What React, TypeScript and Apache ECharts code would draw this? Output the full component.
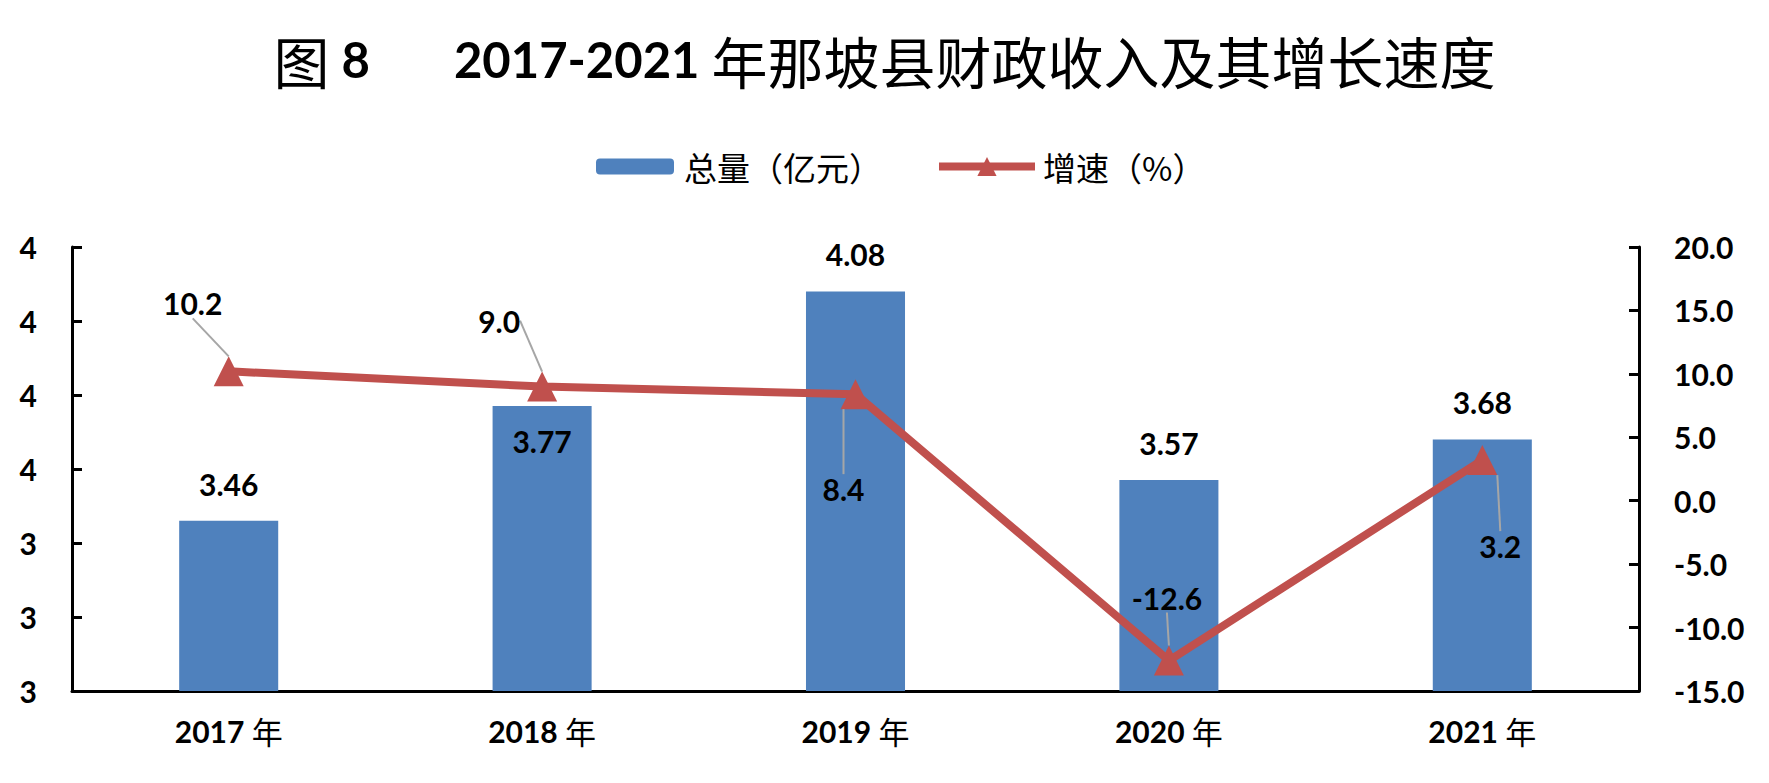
import React, { useEffect, useRef } from 'react';
import * as echarts from 'echarts';

const categories = ['2017 年', '2018 年', '2019 年', '2020 年', '2021 年'];
const totalValues = [3.46, 3.77, 4.08, 3.57, 3.68];
const growthValues = [10.2, 9.0, 8.4, -12.6, 3.2];
const leftAxisRange = [3, 4.2, 0.2];
const rightAxisRange = [-15, 20, 5];
const seriesNames = ['总量（亿元）', '增速（%）'];

const NUM_FONT = 'Lato, "Noto Sans CJK SC", sans-serif';
const CJK_FONT = '"Noto Sans CJK SC", sans-serif';
const lineLabelOffsets = [
  [-36, -68],
  [-43, -66],
  [-12, 95],
  [-2, -63],
  [18, 86],
];

export default function App() {
  const ref = useRef<HTMLDivElement>(null);
  useEffect(() => {
    if (!ref.current) return;
    const chart = echarts.init(ref.current, undefined, { renderer: 'svg' });
    const numLabel = { fontFamily: NUM_FONT, fontWeight: 'bold', fontSize: 30, color: '#000' };
    chart.setOption({
      animation: false,
      backgroundColor: '#fff',
      title: {
        left: 'center',
        top: 21,
        text: '{c|图}{d| 8}{gap| }{d|2017-2021 }{c|年那坡县财政收入及其增长速度}',
        textStyle: {
          rich: {
            c: { fontFamily: CJK_FONT, fontSize: 56, fontWeight: 'normal', color: '#000', lineHeight: 66 },
            d: { fontFamily: NUM_FONT, fontSize: 49, fontWeight: 'bold', color: '#000', lineHeight: 66 },
            gap: { width: 84, fontSize: 48, lineHeight: 66 },
          },
        },
      },
      legend: [
        {
          data: [seriesNames[0]],
          left: 591,
          top: 145,
          itemWidth: 78,
          itemHeight: 16,
          textStyle: { fontFamily: CJK_FONT, fontSize: 33, color: '#000', padding: [0, 0, 0, 5] },
        },
        {
          data: [seriesNames[1]],
          left: 930,
          top: 145,
          itemWidth: 96,
          itemHeight: 24,
          lineStyle: { width: 8, color: '#C0504D' },
          textStyle: { fontFamily: CJK_FONT, fontSize: 33, color: '#000', padding: [0, 0, 0, 3] },
        },
      ],
      grid: { left: 72, right: 130, top: 247, bottom: 92 },
      xAxis: {
        type: 'category',
        data: categories,
        axisLine: { onZero: false, lineStyle: { color: '#000', width: 3 } },
        axisTick: { show: false },
        axisLabel: {
          margin: 24,
          formatter: (v: string) => {
            const [n, c] = v.split(' ');
            return `{n|${n} }{c|${c}}`;
          },
          rich: {
            n: { fontFamily: NUM_FONT, fontWeight: 'bold', fontSize: 30, color: '#000' },
            c: { fontFamily: CJK_FONT, fontWeight: 'normal', fontSize: 31, color: '#000' },
          },
        },
      },
      yAxis: [
        {
          type: 'value',
          min: leftAxisRange[0],
          max: leftAxisRange[1],
          interval: leftAxisRange[2],
          splitLine: { show: false },
          axisLine: { show: true, lineStyle: { color: '#000', width: 3 } },
          axisTick: { show: true, inside: true, length: 10, lineStyle: { color: '#000', width: 3 } },
          axisLabel: { ...numLabel, margin: 35, formatter: (v: number) => v.toFixed(0) },
        },
        {
          type: 'value',
          position: 'right',
          min: rightAxisRange[0],
          max: rightAxisRange[1],
          interval: rightAxisRange[2],
          splitLine: { show: false },
          axisLine: { show: true, lineStyle: { color: '#000', width: 3 } },
          axisTick: { show: true, inside: true, length: 10, lineStyle: { color: '#000', width: 3 } },
          axisLabel: { ...numLabel, margin: 35, formatter: (v: number) => v.toFixed(1) },
        },
      ],
      series: [
        {
          name: seriesNames[0],
          type: 'bar',
          yAxisIndex: 0,
          barWidth: '31.6%',
          itemStyle: { color: '#4F81BD' },
          label: {
            show: true,
            position: 'top',
            distance: 22,
            ...numLabel,
            formatter: (p: any) => Number(p.value).toFixed(2),
          },
          data: totalValues.map((v, i) =>
            i === 1
              ? { value: v, label: { position: 'insideTop', distance: 20, color: '#000' } }
              : v
          ),
        },
        {
          name: seriesNames[1],
          type: 'line',
          yAxisIndex: 1,
          symbol: 'triangle',
          symbolSize: 30,
          lineStyle: { color: '#C0504D', width: 8 },
          itemStyle: { color: '#C0504D' },
          z: 5,
          label: {
            show: true,
            position: 'inside',
            ...numLabel,
            textBorderWidth: 0,
            formatter: (p: any) => Number(p.value).toFixed(1),
          },
          labelLine: { show: true, showAbove: true, lineStyle: { color: '#A6A6A6', width: 2 } },
          labelLayout: (params: any) => {
            const o = lineLabelOffsets[params.dataIndex] || [0, 0];
            return { dx: o[0], dy: o[1] };
          },
          data: growthValues,
        },
      ],
    });
    return () => chart.dispose();
  }, []);
  return (
    <div
      ref={ref}
      style={{ position: 'fixed', left: 0, top: 0, width: 1769, height: 783, background: '#fff' }}
    />
  );
}
